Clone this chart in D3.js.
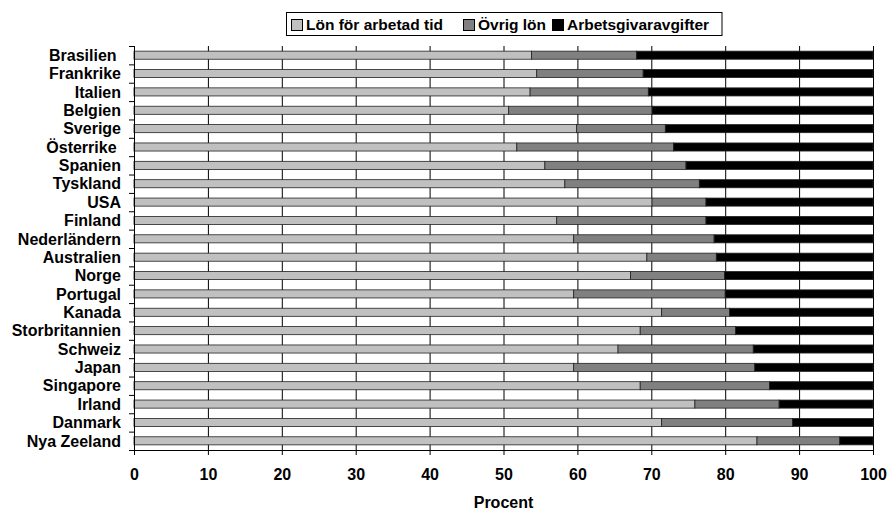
<!DOCTYPE html>
<html><head><meta charset="utf-8">
<script src="https://cdn.jsdelivr.net/npm/d3@7"></script>
<style>body{margin:0;background:#fff}svg{display:block}text{font-family:Arial,"Liberation Sans",sans-serif;font-weight:bold}</style>
</head><body>
<svg id="c" width="889" height="510"></svg>
<script>
const categories = ["Brasilien ","Frankrike","Italien","Belgien","Sverige","Österrike ","Spanien","Tyskland","USA","Finland","Nederländern","Australien","Norge","Portugal","Kanada","Storbritannien","Schweiz","Japan","Singapore","Irland","Danmark","Nya Zeeland"];
const seriesNames = ["Lön för arbetad tid","Övrig lön","Arbetsgivaravgifter"];
// cumulative end of first two segments
const lonArbetadTid = [53.8,54.5,53.6,50.7,59.9,51.8,55.6,58.3,70.1,57.2,59.5,69.4,67.2,59.5,71.4,68.5,65.5,59.5,68.5,75.9,71.4,84.3];
const ovrigLonEnd   = [68.0,68.9,69.6,70.1,71.9,73.0,74.7,76.5,77.4,77.4,78.5,78.8,79.9,80.0,80.6,81.4,83.8,84.0,86.0,87.3,89.1,95.5];
const ovrigLon = ovrigLonEnd.map((e,i)=>+(e-lonArbetadTid[i]).toFixed(1));
const arbetsgivaravgifter = ovrigLonEnd.map(e=>+(100-e).toFixed(1));
const xTicks = [0,10,20,30,40,50,60,70,80,90,100];
const colors = ["#c0c0c0","#808080","#000000"];
const FS = 16;

const svg = d3.select("#c");
const L=134,R=873,T=46,B=450;
const x = d3.scaleLinear().domain([0,100]).range([L,R]);
const y = d3.scaleBand().domain(categories).range([T,B]).paddingInner(0.56).paddingOuter(0.28);

const data = categories.map((c,i)=>({cat:c, v:[lonArbetadTid[i],ovrigLon[i],arbetsgivaravgifter[i]]}));
const stack = d3.stack().keys([0,1,2]).value((d,k)=>d.v[k]);
const stacked = stack(data);

// gridlines
svg.append("g").selectAll("line").data(xTicks.slice(1)).join("line")
  .attr("x1",d=>x(d)+0.5).attr("x2",d=>x(d)+0.5).attr("y1",T).attr("y2",B)
  .attr("stroke","#000").attr("stroke-width",1);

// bars
svg.append("g").selectAll("g").data(stacked).join("g")
  .attr("fill",(d,i)=>colors[i])
  .selectAll("rect").data(d=>d).join("rect")
  .attr("x",d=>x(d[0])).attr("width",d=>x(d[1])-x(d[0]))
  .attr("y",d=>y(d.data.cat)).attr("height",y.bandwidth())
  .attr("stroke","#222").attr("stroke-width",0.8);

// y axis
const gy = svg.append("g");
gy.append("line").attr("x1",L+0.5).attr("x2",L+0.5).attr("y1",T).attr("y2",B).attr("stroke","#000");
gy.selectAll("line.t").data(d3.range(categories.length+1)).join("line").attr("class","t")
  .attr("x1",L-5).attr("x2",L).attr("y1",i=>T+i*(B-T)/categories.length+0.5).attr("y2",i=>T+i*(B-T)/categories.length+0.5)
  .attr("stroke","#000");
gy.selectAll("text").data(categories).join("text")
  .attr("x",121).attr("y",d=>y(d)+y.bandwidth()/2).attr("dy","0.36em")
  .attr("text-anchor","end").attr("font-size",FS).style("white-space","pre").text(d=>d);

// x axis
const gx = svg.append("g").attr("transform",`translate(0,${B})`)
  .call(d3.axisBottom(x).tickValues(xTicks).tickSize(5).tickPadding(14).tickFormat(d3.format("d")));
gx.select(".domain").attr("stroke","#000");
gx.selectAll("text").attr("font-size",FS).attr("fill","#000").style("font-family","Arial,'Liberation Sans',sans-serif").style("font-weight","bold");
svg.append("text").attr("x",(L+R)/2).attr("y",508).attr("text-anchor","middle").attr("font-size",FS).text("Procent");

// legend
const lg = svg.append("g");
lg.append("rect").attr("x",286.5).attr("y",12.5).attr("width",435.5).attr("height",23).attr("fill","#fff").attr("stroke","#000").attr("stroke-width",1);
const legendX = [291.5, 463.5, 552.5];
seriesNames.forEach((n,i)=>{
  lg.append("rect").attr("x",legendX[i]).attr("y",19.5).attr("width",11).attr("height",11).attr("fill",colors[i]).attr("stroke","#000").attr("stroke-width",1);
  lg.append("text").attr("x",legendX[i]+14.5).attr("y",30).attr("font-size",15.5).text(n);
});
</script>
</body></html>
